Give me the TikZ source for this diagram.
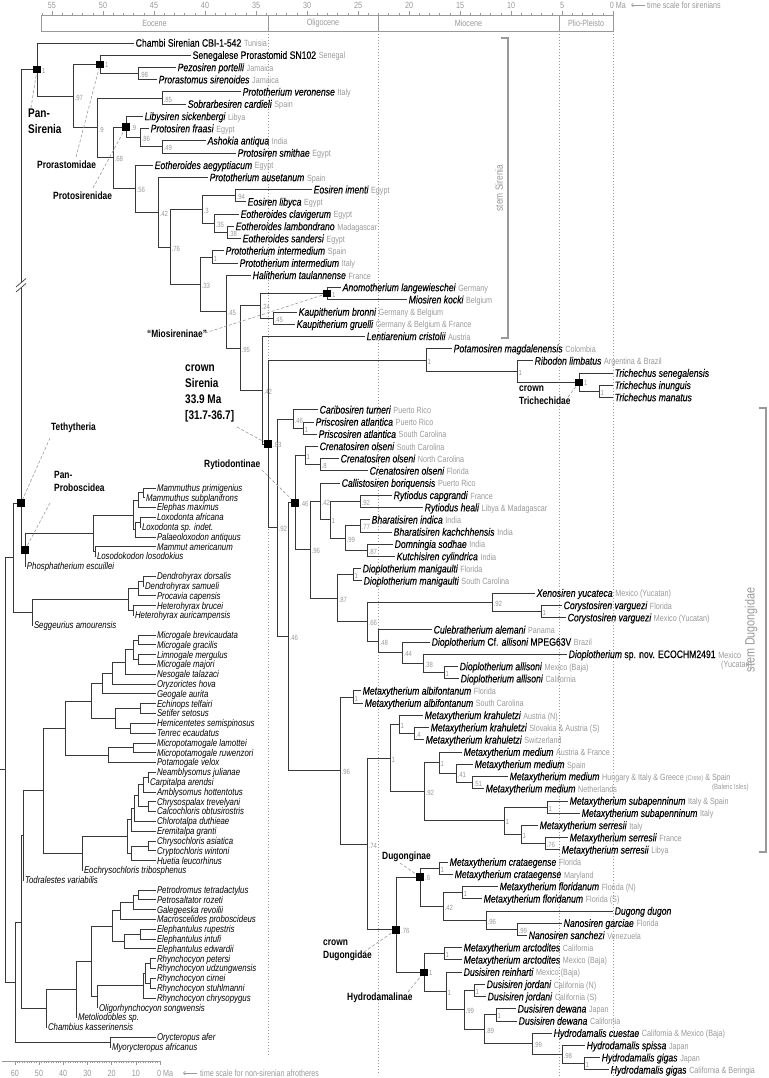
\documentclass[tikz,border=0pt]{standalone}
\usepackage{fontspec}
\setmainfont{Liberation Sans}[FakeStretch=0.8]
\newfontfamily\spf{Liberation Sans}[FakeStretch=0.8,FakeBold=0.3]
\usetikzlibrary{arrows.meta}
\definecolor{lg}{gray}{0.6}
\definecolor{brc}{gray}{0.22}
\newcommand{\Lc}[1]{\hspace{0.25em}{\normalfont\upshape\fontsize{9}{10}\selectfont\color{lg}#1}}
\begin{document}
\begin{tikzpicture}[x=1pt,y=-1pt,
  br/.style={draw=brc,line width=0.9pt},
  tipS/.style={anchor=west,inner xsep=1.5pt,inner ysep=0pt,font=\spf\fontsize{10.8}{11}\selectfont\itshape,text height=7.4pt,text depth=0pt},
  tipA/.style={anchor=west,inner xsep=0.8pt,inner ysep=0pt,font=\fontsize{9.8}{10}\selectfont\itshape,text height=6.6pt,text depth=0pt},
  sup/.style={anchor=west,inner sep=0.5pt,font=\fontsize{7.5}{8}\selectfont,text=lg},
  sqr/.style={fill=black,minimum size=7.5pt,inner sep=0pt},
  grp/.style={font=\fontsize{10.5}{13}\selectfont\bfseries,align=left,inner sep=0pt},
  bigl/.style={font=\fontsize{12.5}{15.7}\selectfont\bfseries,align=left,inner sep=0pt},
  lead/.style={draw=lg,line width=0.6pt,dash pattern=on 3pt off 2pt},
  scl/.style={draw=lg,line width=0.6pt},
  stxt/.style={font=\fontsize{9}{10}\selectfont,text=lg,inner sep=0pt},
  dotln/.style={draw=lg,line width=0.6pt,dash pattern=on 1pt off 2pt},
  brk/.style={draw=lg,line width=1.3pt}
]
\useasboundingbox (0,0) rectangle (768,1078);

% ---------- time scale (sirenians) ----------
\foreach \t in {0,...,56} \draw[scl] ({613-10.2*\t},15) -- ({613-10.2*\t},13);
\foreach \t in {0,5,...,55} \draw[scl] ({613-10.2*\t},15) -- ({613-10.2*\t},11.5);
\foreach \t in {5,10,...,55} \node[stxt] (tn\t) at ({613-10.2*\t},5) {\t};
\node[stxt,anchor=west] (tn0) at (609.6,5) {0 Ma};
\coordinate (ar1) at (645,5); \coordinate (ar0) at (631,5);
\draw[scl,-{Straight Barb[length=2pt]}] (ar1) -- (ar0);
\node[stxt,anchor=west] (tsl) at (647,5) {time scale for sirenians};
\draw[scl] (41,15) rectangle (613,31);
\foreach \x in {268,378,559} \draw[scl] (\x,15) -- (\x,31);
\node[stxt] (epE) at (154.5,23) {Eocene};
\node[stxt] (epO) at (323,23) {Oligocene};
\node[stxt] (epM) at (468.5,23) {Miocene};
\node[stxt] (epP) at (586,23) {Plio-Pleisto};
\foreach \x/\b in {268/1057,378/1075,559/1078,613/1078} \draw[dotln] (\x,31) -- (\x,\b);

% ---------- time scale (afrotheres) ----------
\draw[scl] (2,1061) -- (160,1061);
\foreach \t in {0,...,60} \draw[scl] ({160-2.42*\t},1061) -- ({160-2.42*\t},1063);
\foreach \t in {0,10,...,60} \draw[scl] ({160-2.42*\t},1061) -- ({160-2.42*\t},1065);
\foreach \t in {10,20,...,60} \node[stxt] (bn\t) at ({160-2.42*\t},1073) {\t};
\node[stxt,anchor=west] (bn0) at (157,1073) {0 Ma};
\coordinate (br1) at (197,1073); \coordinate (br0) at (183,1073);
\draw[scl,-{Straight Barb[length=2pt]}] (br1) -- (br0);
\node[stxt,anchor=west] (bsl) at (200,1073) {time scale for non-sirenian afrotheres};

% ---------- brackets ----------
\coordinate (sb1) at (501,38); \coordinate (sb2) at (508,38);
\coordinate (sb3) at (508,338); \coordinate (sb4) at (501,338);
\draw[brk] (sb1) -- (sb2) -- (sb3) -- (sb4);
\node[rotate=90,font=\fontsize{10.5}{11}\selectfont,text=lg,inner sep=0pt] (stS) at (499,188) {stem Sirenia};
\coordinate (db1) at (759,408); \coordinate (db2) at (766,408);
\coordinate (db3) at (766,852); \coordinate (db4) at (759,852);
\draw[brk] (db1) -- (db2) -- (db3) -- (db4);
\node[rotate=90,font=\fontsize{13.5}{14}\selectfont,text=lg,inner sep=0pt] (stD) at (751,630) {stem Dugongidae};

% ---------- internal nodes: sirenians ----------
\coordinate (TT) at (21,503);
\coordinate (PS) at (37,69.6);
\coordinate (N97) at (73,96.2);
\coordinate (PR) at (100,64.4);
\coordinate (N98) at (138,73.6);
\coordinate (N9a) at (97,127.95);
\coordinate (N85) at (162,98.0);
\coordinate (N68) at (113,157.9);
\coordinate (PT) at (126,127.1);
\coordinate (N86) at (140,137.75);
\coordinate (N49) at (162,146.9);
\coordinate (N56) at (135,188.75);
\coordinate (N42a) at (158,212.2);
\coordinate (N76) at (170,246.95);
\coordinate (N3) at (202,209.6);
\coordinate (N94) at (235,195.8);
\coordinate (N35) at (214,223.35);
\coordinate (N38) at (227,232.5);
\coordinate (N33) at (200,284.3);
\coordinate (N1a) at (212,256.95);
\coordinate (N45a) at (226,311.65);
\coordinate (N95) at (240,348.0);
\coordinate (N24) at (260,305.85);
\coordinate (MS) at (327,293.6);
\coordinate (N45b) at (273,318.1);
\coordinate (N42b) at (262,390.2);
\coordinate (CS) at (268,443.95);
\coordinate (TR) at (426,360.1);
\coordinate (NR) at (517,371.6);
\coordinate (CT) at (579,382.25);
\coordinate (NT) at (599,391.4);
\coordinate (N92) at (277,527.8);
\coordinate (N46a) at (293,418.95);
\coordinate (N1p) at (303,428.1);
\coordinate (N46b) at (288,636.6);
\coordinate (RY) at (295,502.75);
\coordinate (CR) at (305,455.6);
\coordinate (N8) at (320,464.8);
\coordinate (N96a) at (310,549.9);
\coordinate (N42c) at (320,501.45);
\coordinate (N1c) at (330,519.8);
\coordinate (N92c) at (360,501.45);
\coordinate (N99c) at (345,538.1);
\coordinate (N77) at (360,525.9);
\coordinate (N87b) at (367,550.35);
\coordinate (N87a) at (337,598.3);
\coordinate (N1d) at (353,574.8);
\coordinate (N66) at (367,621.8);
\coordinate (N92d) at (492,602.3);
\coordinate (N1e) at (541,611.5);
\coordinate (N48) at (378,641.25);
\coordinate (N44) at (402,652.7);
\coordinate (N38b) at (423,663.45);
\coordinate (N1f) at (444,672.6);
\coordinate (N96b) at (340,770.5);
\coordinate (N1g) at (353,697.05);
\coordinate (N74) at (367,844.0);
\coordinate (MX) at (390,758.2);
\coordinate (cK) at (399,724.55);
\coordinate (N4) at (414,733.7);
\coordinate (N92e) at (424,791.8);
\coordinate (NM) at (439,762.8);
\coordinate (N41) at (456,773.45);
\coordinate (N51) at (472,782.6);
\coordinate (NSS) at (504,820.85);
\coordinate (NSub) at (547,807.1);
\coordinate (NSer) at (521,834.6);
\coordinate (N76b) at (545,843.75);
\coordinate (CD) at (396,929.85);
\coordinate (DGN) at (420,877);
\coordinate (NCr) at (439,868.2);
\coordinate (N42f) at (443,906.4);
\coordinate (NFl) at (462,892.65);
\coordinate (N96c) at (486,920.15);
\coordinate (N99n) at (517,929.3);
\coordinate (HY) at (424,972.4);
\coordinate (NArc) at (444,953.8);
\coordinate (N1h) at (446,991.0);
\coordinate (N99h) at (464,1009.9);
\coordinate (N1j) at (474,990.45);
\coordinate (N89) at (484,1029.4);
\coordinate (N1k) at (496,1014.9);
\coordinate (N99i) at (532,1043.9);
\coordinate (N98h) at (562,1054.65);
\coordinate (N1l) at (584,1063.8);

% ---------- internal nodes: afrotheres ----------
\coordinate (Mam) at (143,492.9);
\coordinate (ME) at (138,500.25);
\coordinate (Lox) at (140,522.3);
\coordinate (LP) at (135,529.65);
\coordinate (El) at (133,514.95);
\coordinate (Mm) at (95,551.7);
\coordinate (Pr) at (93,533.3);
\coordinate (PP) at (25,549.9);
\coordinate (D1) at (143,581.2);
\coordinate (D2) at (138,588.55);
\coordinate (H1) at (133,610.6);
\coordinate (PC) at (128,599.6);
\coordinate (Hy) at (32,612.45);
\coordinate (PA) at (13,557.7);
\coordinate (M1) at (138,640.0);
\coordinate (M2) at (138,659.6);
\coordinate (O3) at (133,649.8);
\coordinate (O2) at (125,662.05);
\coordinate (O1) at (112,673.1);
\coordinate (OG) at (102,683.5);
\coordinate (T2) at (140,708.7);
\coordinate (T3) at (130,728.3);
\coordinate (TN) at (115,718.5);
\coordinate (T1) at (91,701.0);
\coordinate (P1) at (133,747.9);
\coordinate (PG) at (108,755.25);
\coordinate (TE) at (65,728.1);
\coordinate (cA) at (148,777.3);
\coordinate (cB) at (143,784.65);
\coordinate (cC) at (148,806.7);
\coordinate (cD) at (138,795.7);
\coordinate (cE) at (134,808.55);
\coordinate (cF) at (131,819.9);
\coordinate (cG) at (148,845.95);
\coordinate (cH) at (131,853.3);
\coordinate (CC) at (127,836.6);
\coordinate (CH) at (82,853.55);
\coordinate (AS) at (43,790.8);
\coordinate (AT) at (23,835.55);
\coordinate (P1m) at (138,895.0);
\coordinate (P2) at (133,902.35);
\coordinate (cW) at (120,910.9);
\coordinate (E1) at (140,934.2);
\coordinate (E2) at (124,941.55);
\coordinate (Mc) at (112,926.2);
\coordinate (R1) at (150,963.6);
\coordinate (R2) at (150,983.2);
\coordinate (R3) at (145,973.4);
\coordinate (cR) at (143,985.7);
\coordinate (Rh) at (97,996.75);
\coordinate (cY) at (91,961.5);
\coordinate (cX) at (76,989.55);
\coordinate (MA) at (46,1008.5);
\coordinate (AIV) at (21,922.0);
\coordinate (TU) at (110,1042.1);
\coordinate (AI) at (15,982.05);
\coordinate (AF) at (5,769.9);
\coordinate (root) at (0,769.9);

% ---------- sirenian tips ----------
\foreach \n/\x/\y/\t in {
s0/134/43.0/{\upshape Chambi Sirenian CBI-1-542}\Lc{Tunisia},
s1/191/55.2/{\upshape Senegalese Prorastomid SN102}\Lc{Senegal},
s2/176/67.5/Pezosiren portelli\Lc{Jamaica},
s3/157/79.7/Prorastomus sirenoides\Lc{Jamaica},
s4/241/91.9/Prototherium veronense\Lc{Italy},
s5/186/104.1/Sobrarbesiren cardieli\Lc{Spain},
s6/143/116.4/Libysiren sickenbergi\Lc{Libya},
s7/149/128.6/Protosiren fraasi\Lc{Egypt},
s8/206/140.8/Ashokia antiqua\Lc{India},
s9/236/153.0/Protosiren smithae\Lc{Egypt},
s10/153/165.3/Eotheroides aegyptiacum\Lc{Egypt},
s11/208/177.5/Prototherium ausetanum\Lc{Spain},
s12/312/189.7/Eosiren imenti\Lc{Egypt},
s13/246/201.9/Eosiren libyca\Lc{Egypt},
s14/239/214.2/Eotheroides clavigerum\Lc{Egypt},
s15/234/226.4/Eotheroides lambondrano\Lc{Madagascar},
s16/241/238.6/Eotheroides sandersi\Lc{Egypt},
s17/224/250.8/Prototherium intermedium\Lc{Spain},
s18/238/263.1/Prototherium intermedium\Lc{Italy},
s19/251/275.3/Halitherium taulannense\Lc{France},
s20/341/287.5/Anomotherium langewieschei\Lc{Germany},
s21/407/299.7/Miosiren kocki\Lc{Belgium},
s22/297/312.0/Kaupitherium bronni\Lc{Germany \& Belgium},
s23/295/324.2/Kaupitherium gruelli\Lc{Germany \& Belgium \& France},
s24/365/336.4/Lentiarenium cristolii\Lc{Austria},
s25/452/348.6/Potamosiren magdalenensis\Lc{Colombia},
s26/533/360.9/Ribodon limbatus\Lc{Argentina \& Brazil},
s27/613/373.1/Trichechus senegalensis,
s28/613/385.3/Trichechus inunguis,
s29/613/397.5/Trichechus manatus,
s30/318/409.8/Caribosiren turneri\Lc{Puerto Rico},
s31/314/422.0/Priscosiren atlantica\Lc{Puerto Rico},
s32/317/434.2/Priscosiren atlantica\Lc{South Carolina},
s33/318/446.4/Crenatosiren olseni\Lc{South Carolina},
s34/339/458.7/Crenatosiren olseni\Lc{North Carolina},
s35/368/470.9/Crenatosiren olseni\Lc{Florida},
s36/340/483.1/Callistosiren boriquensis\Lc{Puerto Rico},
s37/392/495.3/Rytiodus capgrandi\Lc{France},
s38/423/507.6/Rytiodus heali\Lc{Libya \& Madagascar},
s39/370/519.8/Bharatisiren indica\Lc{India},
s40/392/532.0/Bharatisiren kachchhensis\Lc{India},
s41/393/544.2/Domningia sodhae\Lc{India},
s42/395/556.5/Kutchisiren cylindrica\Lc{India},
s43/361/568.7/Dioplotherium manigaulti\Lc{Florida},
s44/362/580.9/Dioplotherium manigaulti\Lc{South Carolina},
s45/535/593.1/Xenosiren yucateca\Lc{Mexico (Yucatan)},
s46/562/605.4/Corystosiren varguezi\Lc{Florida},
s47/566/617.6/Corystosiren varguezi\Lc{Mexico (Yucatan)},
s48/432/629.8/Culebratherium alemani\Lc{Panama},
s49/430/642.0/Dioplotherium {\upshape Cf.} allisoni {\upshape MPEG63V}\Lc{Brazil},
s50/567/654.3/Dioplotherium {\upshape sp. nov. ECOCHM2491}\Lc{Mexico},
s51/458/666.5/Dioplotherium allisoni\Lc{Mexico (Baja)},
s52/459/678.7/Dioplotherium allisoni\Lc{California},
s53/361/690.9/Metaxytherium albifontanum\Lc{Florida},
s54/363/703.2/Metaxytherium albifontanum\Lc{South Carolina},
s55/423/715.4/Metaxytherium krahuletzi\Lc{Austria (N)},
s56/429/727.6/Metaxytherium krahuletzi\Lc{Slovakia \& Austria (S)},
s57/424/739.8/Metaxytherium krahuletzi\Lc{Switzerland},
s58/462/752.1/Metaxytherium medium\Lc{Austria \& France},
s59/473/764.3/Metaxytherium medium\Lc{Spain},
s60/508/776.5/Metaxytherium medium\Lc{Hungary \& Italy \& Greece {\fontsize{7}{8}\selectfont(Crete)} \& Spain},
s61/484/788.7/Metaxytherium medium\Lc{Netherlands},
s62/568/801.0/Metaxytherium subapenninum\Lc{Italy \& Spain},
s63/580/813.2/Metaxytherium subapenninum\Lc{Italy},
s64/538/825.4/Metaxytherium serresii\Lc{Italy},
s65/568/837.6/Metaxytherium serresii\Lc{France},
s66/560/849.9/Metaxytherium serresii\Lc{Libya},
s67/448/862.1/Metaxytherium crataegense\Lc{Florida},
s68/453/874.3/Metaxytherium crataegense\Lc{Maryland},
s69/498/886.5/Metaxytherium floridanum\Lc{Florida (N)},
s70/482/898.8/Metaxytherium floridanum\Lc{Florida (S)},
s71/613/911.0/Dugong dugon,
s72/562/923.2/Nanosiren garciae\Lc{Florida},
s73/527/935.4/Nanosiren sanchezi\Lc{Venezuela},
s74/462/947.7/Metaxytherium arctodites\Lc{California},
s75/462/959.9/Metaxytherium arctodites\Lc{Mexico (Baja)},
s76/462/972.1/Dusisiren reinharti\Lc{Mexico (Baja)},
s77/485/984.3/Dusisiren jordani\Lc{California (N)},
s78/486/996.6/Dusisiren jordani\Lc{California (S)},
s79/516/1008.8/Dusisiren dewana\Lc{Japan},
s80/517/1021.0/Dusisiren dewana\Lc{California},
s81/552/1033.2/Hydrodamalis cuestae\Lc{California \& Mexico (Baja)},
s82/585/1045.5/Hydrodamalis spissa\Lc{Japan},
s83/600/1057.7/Hydrodamalis gigas\Lc{Japan},
s84/609/1069.9/Hydrodamalis gigas\Lc{California \& Beringia}}
  \node[tipS] (\n) at (\x,\y) {\t};
\node[stxt,anchor=west] (yuc) at (721,665.5) {(Yucatan)};
\node[stxt,anchor=west,font=\fontsize{7.5}{8}\selectfont] (bal) at (712,787.5) {(Baleric Isles)};

% ---------- afrothere tips ----------
\foreach \n/\x/\y/\t in {
a0/156/488.0/Mammuthus primigenius, a1/145/497.8/Mammuthus subplanifrons,
a2/156/507.6/Elephas maximus, a3/156/517.4/Loxodonta africana,
a4/141/527.2/Loxodonta sp. indet., a5/156/537.0/Palaeoloxodon antiquus,
a6/156/546.8/Mammut americanum, a7/96/556.6/Losodokodon losodokius,
a8/26/566.5/Phosphatherium escuillei, a9/156/576.3/Dendrohyrax dorsalis,
a10/144/586.1/Dendrohyrax samueli, a11/156/595.9/Procavia capensis,
a12/156/605.7/Heterohyrax brucei, a13/134/615.5/Heterohyrax auricampensis,
a14/33/625.3/Seggeurius amourensis, a15/156/635.1/Microgale brevicaudata,
a16/156/644.9/Microgale gracilis, a17/156/654.7/Limnogale mergulus,
a18/156/664.5/Microgale majori, a19/156/674.3/Nesogale talazaci,
a20/156/684.1/Oryzorictes hova, a21/156/693.9/Geogale aurita,
a22/156/703.8/Echinops telfairi, a23/156/713.6/Setifer setosus,
a24/156/723.4/Hemicentetes semispinosus, a25/156/733.2/Tenrec ecaudatus,
a26/156/743.0/Micropotamogale lamottei, a27/156/752.8/Micropotamogale ruwenzori,
a28/156/762.6/Potamogale velox, a29/156/772.4/Neamblysomus julianae,
a30/149/782.2/Carpitalpa arendsi, a31/156/792.0/Amblysomus hottentotus,
a32/156/801.8/Chrysospalax trevelyani, a33/156/811.6/Calcochloris obtusirostris,
a34/156/821.4/Chlorotalpa duthieae, a35/156/831.2/Eremitalpa granti,
a36/156/841.0/Chrysochloris asiatica, a37/156/850.9/Cryptochloris wintoni,
a38/156/860.7/Huetia leucorhinus, a39/83/870.5/Eochrysochloris tribosphenus,
a40/24/880.3/Todralestes variabilis, a41/156/890.1/Petrodromus tetradactylus,
a42/156/899.9/Petrosaltator rozeti, a43/156/909.7/Galegeeska revoilii,
a44/156/919.5/Macroscelides proboscideus, a45/156/929.3/Elephantulus rupestris,
a46/156/939.1/Elephantulus intufi, a47/156/948.9/Elephantulus edwardii,
a48/156/958.7/Rhynchocyon petersi, a49/156/968.5/Rhynchocyon udzungwensis,
a50/156/978.3/Rhynchocyon cirnei, a51/156/988.1/Rhynchocyon stuhlmanni,
a52/156/998.0/Rhynchocyon chrysopygus, a53/98/1007.8/Oligorhynchocyon songwensis,
a54/77/1017.6/Metoliodobles sp., a55/47/1027.4/Chambius kasserinensis,
a56/156/1037.2/Orycteropus afer, a57/111/1047.0/Myorycteropus africanus}
  \node[tipA] (\n) at (\x,\y) {\t};

% ---------- branches ----------
\foreach \p/\c in {TT/PS, PS/s0, PS/N97, N97/PR, N97/N9a, PR/s1, PR/N98, N98/s2, N98/s3,
 N9a/N85, N9a/N68, N85/s4, N85/s5, N68/PT, N68/N56, PT/s6, PT/N86, N86/s7, N86/N49,
 N49/s8, N49/s9, N56/s10, N56/N42a, N42a/s11, N42a/N76, N76/N3, N76/N33, N3/N94, N3/N35,
 N94/s12, N94/s13, N35/s14, N35/N38, N38/s15, N38/s16, N33/N1a, N33/N45a, N1a/s17, N1a/s18,
 N45a/s19, N45a/N95, N95/N24, N95/N42b, N24/MS, N24/N45b, MS/s20, MS/s21, N45b/s22, N45b/s23,
 N42b/s24, N42b/CS, CS/TR, CS/N92, TR/s25, TR/NR, NR/s26, NR/CT, CT/s27, CT/NT, NT/s28, NT/s29,
 N92/N46a, N92/N46b, N46a/s30, N46a/N1p, N1p/s31, N1p/s32, N46b/RY, N46b/N96b, RY/CR, RY/N96a,
 CR/s33, CR/N8, N8/s34, N8/s35, N96a/N42c, N96a/N87a, N42c/s36, N42c/N1c, N1c/N92c, N1c/N99c,
 N92c/s37, N92c/s38, N99c/N77, N99c/N87b, N77/s39, N77/s40, N87b/s41, N87b/s42, N87a/N1d, N87a/N66,
 N1d/s43, N1d/s44, N66/N92d, N66/N48, N92d/s45, N92d/N1e, N1e/s46, N1e/s47, N48/s48, N48/N44,
 N44/s49, N44/N38b, N38b/s50, N38b/N1f, N1f/s51, N1f/s52, N96b/N1g, N96b/N74, N1g/s53, N1g/s54,
 N74/MX, N74/CD, MX/cK, MX/N92e, cK/s55, cK/N4, N4/s56, N4/s57, N92e/NM, N92e/NSS, NM/s58, NM/N41,
 N41/s59, N41/N51, N51/s60, N51/s61, NSS/NSub, NSS/NSer, NSub/s62, NSub/s63, NSer/s64, NSer/N76b,
 N76b/s65, N76b/s66, CD/DGN, CD/HY, DGN/NCr, DGN/N42f, NCr/s67, NCr/s68, N42f/NFl, N42f/N96c,
 NFl/s69, NFl/s70, N96c/s71, N96c/N99n, N99n/s72, N99n/s73, HY/NArc, HY/N1h, NArc/s74, NArc/s75,
 N1h/s76, N1h/N99h, N99h/N1j, N99h/N89, N1j/s77, N1j/s78, N89/N1k, N89/N99i, N1k/s79, N1k/s80,
 N99i/s81, N99i/N98h, N98h/s82, N98h/N1l, N1l/s83, N1l/s84}
  \draw[br] (\p) |- (\c);
\foreach \p/\c in {AF/PA, AF/AI, PA/TT, PA/Hy, TT/PP, PP/Pr, PP/a8, Pr/El, Pr/Mm, El/ME, El/LP,
 ME/Mam, ME/a2, Mam/a0, Mam/a1, LP/Lox, LP/a5, Lox/a3, Lox/a4, Mm/a6, Mm/a7, Hy/PC, Hy/a14,
 PC/D2, PC/H1, D2/D1, D2/a11, D1/a9, D1/a10, H1/a12, H1/a13, AI/AIV, AI/TU, TU/a56, TU/a57,
 AIV/AT, AIV/MA, AT/AS, AT/a40, AS/TE, AS/CH, TE/T1, TE/PG, T1/OG, T1/TN, OG/O1, OG/a21,
 O1/O2, O1/a20, O2/O3, O2/a19, O3/M1, O3/M2, M1/a15, M1/a16, M2/a17, M2/a18, TN/T2, TN/T3,
 T2/a22, T2/a23, T3/a24, T3/a25, PG/P1, PG/a28, P1/a26, P1/a27, CH/CC, CH/a39, CC/cF, CC/cH,
 cF/cE, cF/a35, cE/cD, cE/a34, cD/cB, cD/cC, cB/cA, cB/a31, cA/a29, cA/a30, cC/a32, cC/a33,
 cH/cG, cH/a38, cG/a36, cG/a37, MA/cX, MA/a55, cX/cY, cX/a54, cY/Mc, cY/Rh, Mc/cW, Mc/E2,
 cW/P2, cW/a44, P2/P1m, P2/a43, P1m/a41, P1m/a42, E2/E1, E2/a47, E1/a45, E1/a46, Rh/cR, Rh/a53,
 cR/R3, cR/a52, R3/R1, R3/R2, R1/a48, R1/a49, R2/a50, R2/a51}
  \draw[br] (\p) |- (\c);
\draw[br] (root) -- (AF);

% break mark on long branch
\fill[white] (17,281.5) rectangle (25,287.5);
\draw[brc,line width=0.7pt] (16,287) -- (26,278.5);
\draw[brc,line width=0.7pt] (16,292) -- (26,283.5);

% ---------- support values ----------
\foreach \n/\t in {N97/.97, N98/.98, N9a/.9, N85/.85, N68/.68, N86/.86, N49/.49, N56/.56,
 N42a/.42, N76/.76, N3/.3, N94/.94, N35/.35, N38/.38, N33/.33, N1a/1, N45a/.45, N95/.95,
 N24/.24, N45b/.45, N42b/.42, TR/1, NR/1, NT/1, N92/.92, N46a/.46, N1p/1, N46b/.46, CR/1,
 N8/.8, N96a/.96, N42c/.42, N1c/1, N92c/.92, N99c/.99, N77/.77, N87b/.87, N87a/.87, N1d/1,
 N66/.66, N92d/.92, N1e/1, N48/.48, N44/.44, N38b/.38, N1f/1, N96b/.96, N1g/1, N74/.74,
 MX/1, cK/1, N4/.4, N92e/.92, NM/1, N41/.41, N51/.51, NSS/1, NSub/1, NSer/1, N76b/.76,
 NCr/1, N42f/.42, NFl/1, N96c/.96, N99n/.99, NArc/1, N1h/1, N99h/.99, N1j/1, N89/.89,
 N1k/1, N99i/.99, N98h/.98, N1l/1}
  \node[sup,xshift=1pt,yshift=-1.5pt] (l-\n) at (\n) {\t};

% ---------- clade squares ----------
\foreach \n/\t in {PS/1, PR/1, PT/.9, MS/1, CS/.83, CT/1, RY/.46, CD/.76, DGN/.6, HY/1} {
  \node[sqr] (sq\n) at (\n) {};
  \node[sup,xshift=4.5pt,yshift=-1pt] (l-\n) at (\n) {\t};
}
\node[sqr] (sqTT) at (TT) {};
\node[sqr] (sqPP) at (PP) {};

% ---------- clade labels ----------
\node[bigl,anchor=north west] (gPS) at (28,109) {Pan-\\Sirenia};
\node[grp,anchor=west] (gPR) at (37,165) {Prorastomidae};
\node[grp,anchor=west] (gPT) at (53,196) {Protosirenidae};
\node[grp,anchor=west] (gMS) at (147,334) {``Miosireninae''};
\node[bigl,anchor=north west] (gCS) at (185,365) {crown\\Sirenia\\33.9 Ma\\{[31.7-36.7]}};
\node[grp,anchor=north west] (gCT) at (519,386) {crown\\Trichechidae};
\node[grp,anchor=west] (gRY) at (204,465) {Rytiodontinae};
\node[grp,anchor=west] (gTT) at (51,428) {Tethytheria};
\node[grp,anchor=north west] (gPP) at (54,471) {Pan-\\Proboscidea};
\node[grp,anchor=west] (gDGN) at (382,857) {Dugonginae};
\node[grp,anchor=north west] (gCD) at (323,940) {crown\\Dugongidae};
\node[grp,anchor=west] (gHY) at (347,998) {Hydrodamalinae};

\coordinate (dPS) at (31,108); \coordinate (dPR) at (76,157);
\coordinate (dPT) at (93,188); \coordinate (dMS) at (205,333);
\coordinate (dCS) at (237,427); \coordinate (dCT) at (568,397);
\coordinate (dRY) at (262,470); \coordinate (dTT) at (50,438);
\coordinate (dPP) at (50,503); \coordinate (dDGN) at (400,863);
\coordinate (dCD) at (364,952); \coordinate (dHY) at (408,992);
\foreach \a/\b in {dPS/sqPS, dPR/sqPR, dPT/sqPT, dMS/sqMS, dCS/sqCS, dCT/sqCT, dRY/sqRY,
 dTT/sqTT, dPP/sqPP, dDGN/sqDGN, dCD/sqCD, dHY/sqHY}
  \draw[lead] (\a) -- (\b);
\end{tikzpicture}
\end{document}
